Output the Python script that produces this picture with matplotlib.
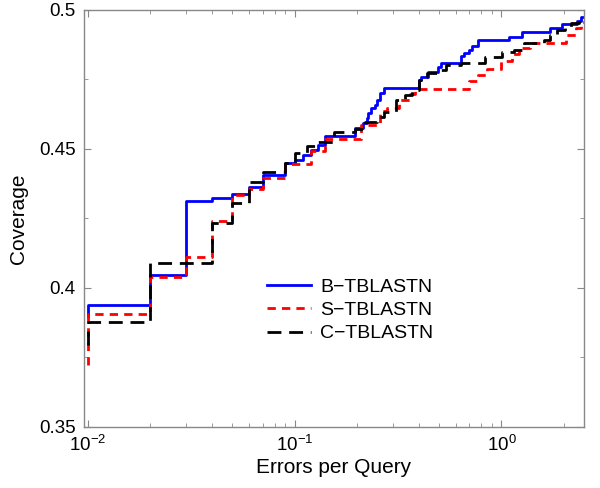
import matplotlib
matplotlib.use("Agg")
import matplotlib.pyplot as plt
from matplotlib.ticker import LogLocator, MultipleLocator

plt.rcParams["font.family"] = ["Liberation Sans", "DejaVu Sans"]
plt.rcParams["mathtext.default"] = "regular"

# coverage vs errors per query (step curves); first value is the drop at x=0.01
B_X = [0.01, 0.01, 0.02, 0.03, 0.04, 0.05, 0.06, 0.07, 0.09, 0.10, 0.11, 0.12,
       0.13, 0.14, 0.195, 0.213, 0.223, 0.226, 0.235, 0.245, 0.25, 0.26, 0.27,
       0.40, 0.41, 0.44, 0.495, 0.51, 0.64, 0.66, 0.70, 0.72, 0.77, 1.09, 1.25,
       1.71, 1.97, 2.33, 2.43]
B_Y = [0.3900, 0.3938, 0.4047, 0.4313, 0.4323, 0.4337, 0.4364, 0.4406, 0.4449,
       0.4460, 0.4478, 0.4496, 0.4514, 0.4545, 0.4574, 0.4592, 0.4610, 0.4628,
       0.4646, 0.4658, 0.4676, 0.4700, 0.4718, 0.4748, 0.4760, 0.4778, 0.4796,
       0.4808, 0.4832, 0.4844, 0.4856, 0.4868, 0.4890, 0.4902, 0.4920, 0.4934,
       0.4949, 0.4961, 0.4974]

S_X = [0.01, 0.01, 0.02, 0.03, 0.04, 0.05, 0.06, 0.07, 0.09, 0.12, 0.14, 0.21,
       0.26, 0.28, 0.32, 0.36, 0.38, 0.70, 0.77, 0.85, 1.00, 1.12, 1.22, 1.38,
       2.06, 2.28, 2.41]
S_Y = [0.3723, 0.3906, 0.4038, 0.4110, 0.4241, 0.4335, 0.4355, 0.4395, 0.4445,
       0.4493, 0.4535, 0.4586, 0.4637, 0.4646, 0.4676, 0.4698, 0.4714, 0.4745,
       0.4766, 0.4788, 0.4817, 0.4842, 0.4862, 0.4880, 0.4908, 0.4934, 0.4957]

C_X = [0.01, 0.01, 0.02, 0.04, 0.05, 0.06, 0.07, 0.09, 0.10, 0.115, 0.13,
       0.155, 0.195, 0.22, 0.25, 0.27, 0.31, 0.34, 0.37, 0.40, 0.41, 0.435,
       0.50, 0.54, 0.64, 0.83, 1.01, 1.155, 1.29, 1.61, 1.71, 1.86, 2.02, 2.18,
       2.38]
C_Y = [0.3795, 0.3878, 0.4091, 0.4233, 0.4305, 0.4382, 0.4418, 0.4449, 0.4485,
       0.4511, 0.4526, 0.4561, 0.4571, 0.4598, 0.4616, 0.4634, 0.4676, 0.4694,
       0.4712, 0.4748, 0.4760, 0.4772, 0.4784, 0.4802, 0.4810, 0.4830, 0.4849,
       0.4856, 0.4880, 0.4892, 0.4910, 0.4928, 0.4934, 0.4952, 0.4967]

X_END = 2.5
SERIES = [
    ("B\u2212TBLASTN", B_X, B_Y, "#0000ff", "-"),
    ("S\u2212TBLASTN", S_X, S_Y, "#ff0000", (0, (3.0, 2.2))),
    ("C\u2212TBLASTN", C_X, C_Y, "#000000", (0, (5.0, 2.8))),
]


def main() -> None:
    fig = plt.figure(figsize=(6.0, 4.88), dpi=100)
    ax = fig.add_axes([0.14, 0.125, 0.833, 0.855])

    for label, xs, ys, color, ls in SERIES:
        ax.plot(xs + [X_END], ys + [ys[-1]], drawstyle="steps-post",
                color=color, linestyle=ls, linewidth=2.0, label=label)

    ax.set_xscale("log")
    ax.set_xlim(0.0096, X_END)
    ax.set_ylim(0.35, 0.5)
    ax.yaxis.set_major_locator(MultipleLocator(0.05))
    ax.yaxis.set_minor_locator(MultipleLocator(0.025))
    ax.yaxis.set_major_formatter(plt.FuncFormatter(lambda v, p: f"{v:g}"))
    ax.xaxis.set_major_locator(LogLocator(base=10, numticks=10))
    ax.xaxis.set_minor_locator(LogLocator(base=10, subs=range(2, 10), numticks=20))

    for s in ax.spines.values():
        s.set_color("#888888")
        s.set_linewidth(1.0)
    ax.tick_params(which="both", direction="in", top=True, right=True,
                   color="#888888", labelsize=13.5)
    ax.tick_params(which="major", length=5, pad=6)
    ax.tick_params(which="minor", length=3)

    ax.set_xlabel("Errors per Query", fontsize=15, labelpad=2)
    ax.set_ylabel("Coverage", fontsize=15, labelpad=8)

    ax.legend(loc="upper left", bbox_to_anchor=(0.35, 0.376), borderaxespad=0,
              frameon=False, fontsize=14, handlelength=2.3, handletextpad=0.45,
              labelspacing=0.3)

    fig.savefig("out.png", dpi=100)
    plt.close(fig)


if __name__ == "__main__":
    main()
